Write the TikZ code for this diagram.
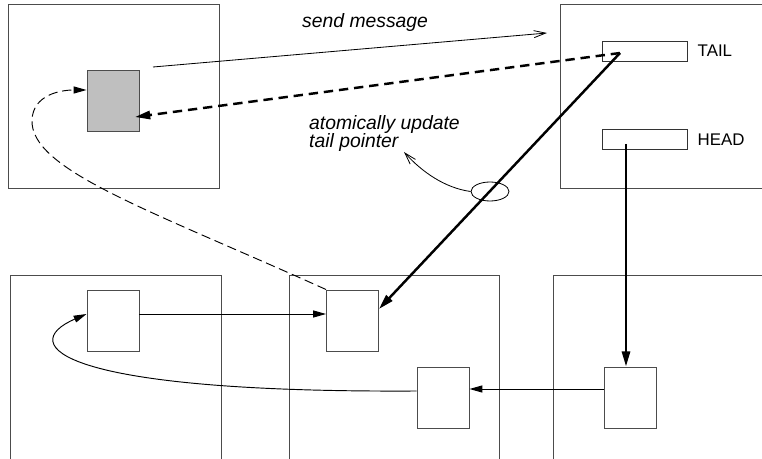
\documentclass[tikz,border=0pt]{standalone}
\usepackage{fontspec}
\setmainfont{Liberation Sans}
\usetikzlibrary{arrows.meta,calc,positioning,shapes.geometric}
\tikzset{%
	machine/.style = {draw=black!70, line width=0.8pt, rectangle, inner sep=0pt}, % processor
	cell/.style    = {draw=black!70, line width=0.8pt, rectangle, inner sep=0pt, minimum width=1.56cm, minimum height=1.83cm}, % queue cell
	ptr/.style     = {draw=black!80, line width=0.8pt, rectangle, inner sep=0pt, minimum width=2.55cm, minimum height=0.6cm}, % pointer
	ptrname/.style = {inner sep=0pt, font=\fontsize{14.4}{16}\selectfont}, % pointer name
	note/.style    = {inner sep=0pt, font=\fontsize{16.5}{16.2}\selectfont\itshape, align=left}, % comment
	link/.style    = {line width=0.8pt, -{Triangle[length=11pt,width=6pt]}},
	heavy/.style   = {line width=2.1pt, -{Triangle[length=13pt,width=7pt]}},
	msgline/.style = {line width=0.7pt, -{Straight Barb[length=10pt,width=6pt]}},
}
\begin{document}
\begin{tikzpicture}[x=0.03cm, y=-0.03cm, node distance=0.3cm]
	\useasboundingbox (0,0) rectangle (762,459);
	\clip (0,0) rectangle (762,459);
	% processors
	\node[machine, minimum width=6.33cm, minimum height=5.52cm] (src) at (113.5,96) {};
	\node[machine, minimum width=6.6cm, minimum height=5.52cm] (qhost) at (670,96) {};
	\node[machine, minimum width=6.33cm, minimum height=5.9cm] (pl) at (115.5,374) {};
	\node[machine, minimum width=6.3cm, minimum height=5.9cm] (pm) at (394,374) {};
	\node[machine, minimum width=6.9cm, minimum height=5.9cm] (pr) at (668,374) {};
	% cells and pointers
	\node[cell, fill=black!25] (msg) at (113,100.5) {};
	\node[cell] (l1) at (113,320.5) {};
	\node[cell] (m1) at (352.5,320.5) {};
	\node[cell] (m2) at (443,397.5) {};
	\node[cell] (r1) at (630.5,397.5) {};
	\node[ptr] (tailbox) at (644.5,51) {};
	\node[ptr, below=2.04cm of tailbox] (headbox) {};
	\node[ptrname, right=of tailbox] (tail) {TAIL};
	\node[ptrname, right=of headbox] (head) {HEAD};
	% comments
	\node[note, anchor=base west] (sendlbl) at (302,28) {send message};
	\node[note, anchor=base west] (upd) at (309,148) {atomically update\\tail pointer};
	\node[draw, ellipse, line width=0.7pt, inner sep=0pt, minimum width=1.14cm, minimum height=0.57cm] (cas) at (490,191.5) {};
	\coordinate (sendfrom) at (153,67);
	\coordinate (sendto) at (547,33);
	\coordinate (tailp) at (620,53);
	\coordinate (msgp) at (135,117);
	\coordinate (headp) at (626,144);
	\coordinate (updtip) at (404,152);
	% links
	\draw[msgline] (sendfrom) -- (sendto);
	\draw[heavy, dash pattern=on 8pt off 5pt] (tailp) -- (msgp);
	\draw[heavy] (tailp) -- ($(m1.east)+(0,-11.5)$);
	\draw[heavy] (headp) -- (headp |- r1.north);
	\draw[link] ($(l1.east)+(0,-6.5)$) -- ($(m1.west)+(0,-6.5)$);
	\draw[link] ($(r1.west)+(0,-8.5)$) -- ($(m2.east)+(0,-8.5)$);
	\draw[link] ($(m2.west)+(0,-6.5)$) .. controls (60,393) and (15,345) .. ($(l1.west)+(0,-6.5)$);
	\draw[link, dash pattern=on 8pt off 4pt] (m1.north west) .. controls (150,210) and (30,170) .. (32,120) .. controls (33,95) and (60,90) .. ($(msg.west)+(0,-10.5)$);
	\draw[msgline] (cas.west) .. controls (445,188) and (422,172) .. (updtip);
\end{tikzpicture}
\end{document}
